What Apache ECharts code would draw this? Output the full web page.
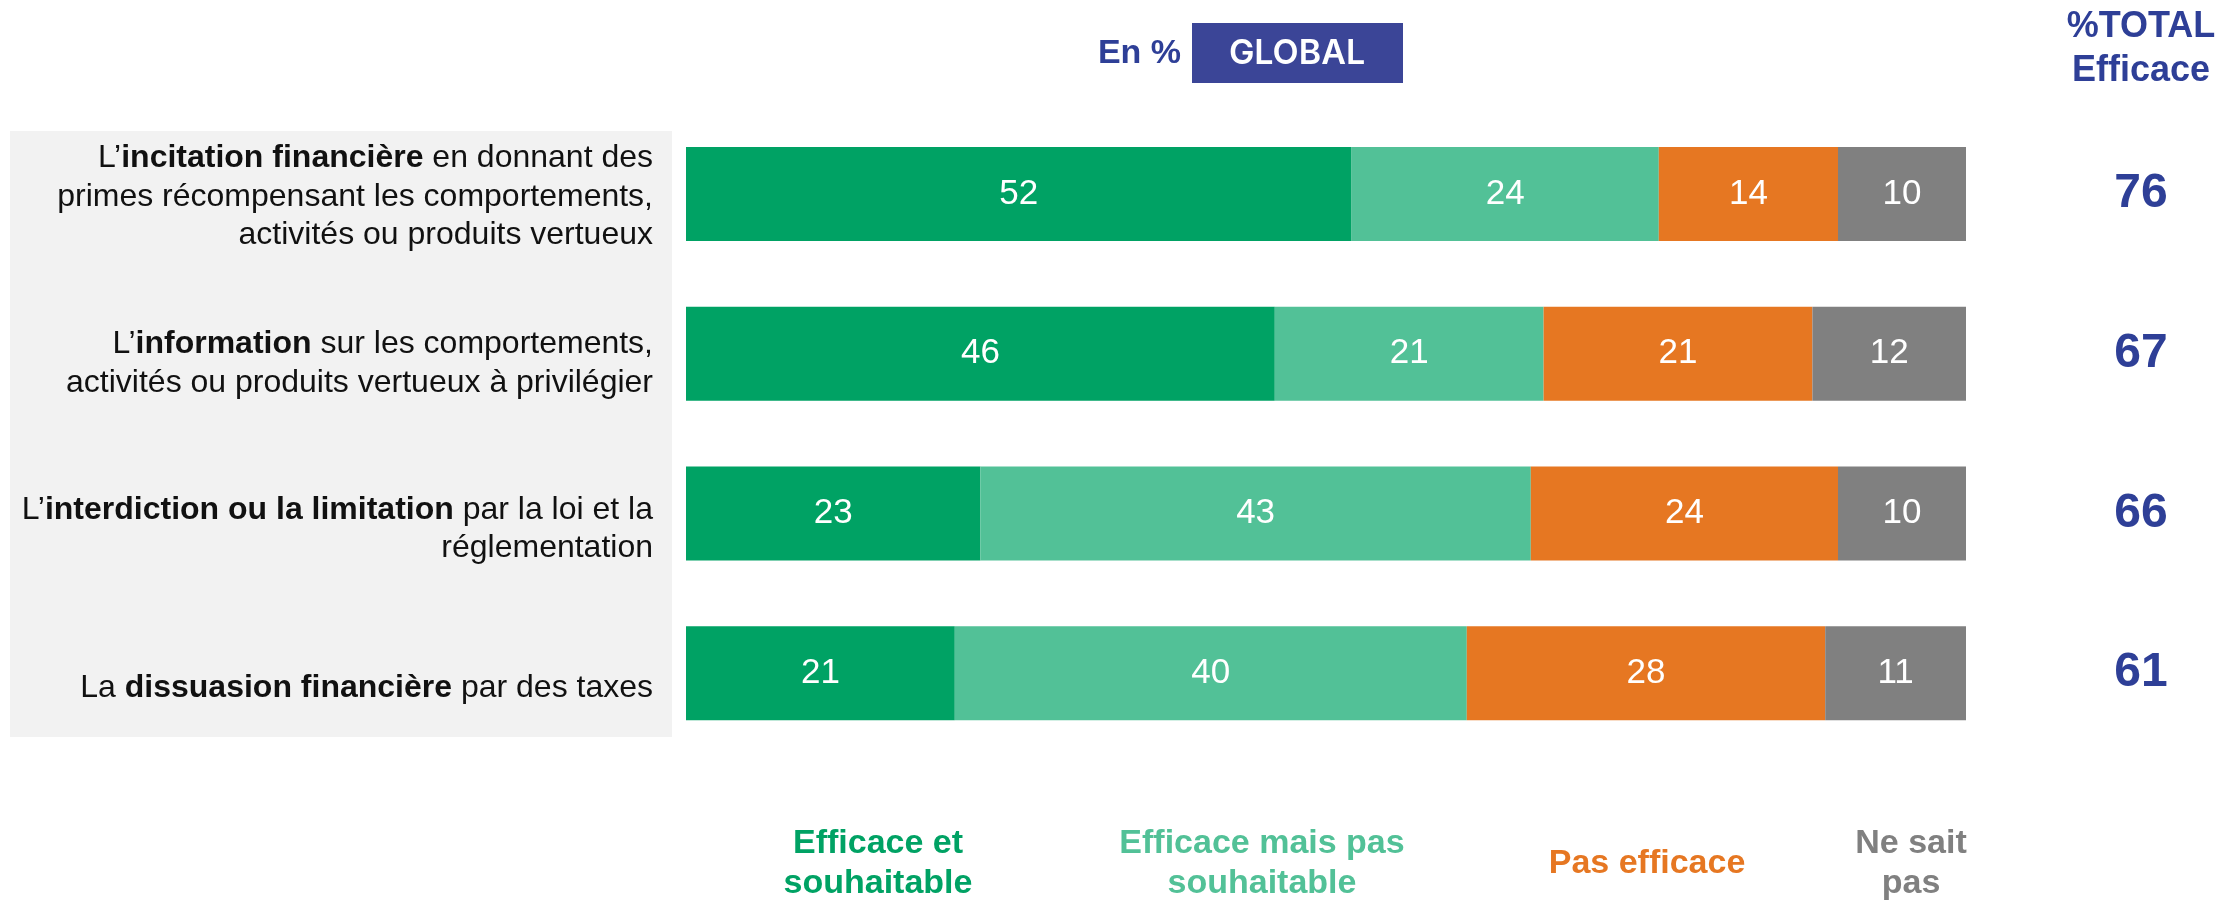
<!DOCTYPE html>
<html>
<head>
<meta charset="utf-8">
<title>Efficacité des leviers</title>
<script src="https://cdn.jsdelivr.net/npm/echarts@6/dist/echarts.min.js"></script>
<style>
	html, body { margin: 0; padding: 0; background: #fff; }
	#main { width: 2236px; height: 900px; }
</style>
</head>
<body>
<div id="main"></div>
<script>
// libellés des leviers (parties en gras entre **)
var categories = [
	'L’**incitation financière** en donnant des\nprimes récompensant les comportements,\nactivités ou produits vertueux',
	'L’**information** sur les comportements,\nactivités ou produits vertueux à privilégier',
	'L’**interdiction ou la limitation** par la loi et la\nréglementation',
	'La **dissuasion financière** par des taxes'
];
var seriesNames = ['Efficace et souhaitable', 'Efficace mais pas souhaitable', 'Pas efficace', 'Ne sait pas'];
var legendLabels = ['Efficace et\nsouhaitable', 'Efficace mais pas\nsouhaitable', 'Pas efficace', 'Ne sait\npas'];
var colors = ['#00A264', '#52C197', '#E67722', '#808080'];

var efficaceSouhaitable = [52, 46, 23, 21];
var efficacePasSouhaitable = [24, 21, 43, 40];
var pasEfficace = [14, 21, 24, 28];
var neSaitPas = [10, 12, 10, 11];
var totalEfficace = [76, 67, 66, 61];

// décalage vertical des libellés (mise en page seulement)
var labelShift = [3, 10, 16, 15];

var font = '"Liberation Sans", Arial, sans-serif';
var navy = '#2E3F97';

// transforme **gras** en texte riche ECharts
function toRich(label) {
	return label.split('\n').map(function(line) {
		var parts = line.split('**');
		var out = '';
		parts.forEach(function(p, i) {
			if (p === '') return;
			out += '{' + (i % 2 ? 'b' : 'n') + '|' + p + '}';
		});
		return out;
	}).join('\n');
}

var chart = echarts.init(document.getElementById('main'));

var values = [efficaceSouhaitable, efficacePasSouhaitable, pasEfficace, neSaitPas];
var series = values.map(function(arr, i) {
	return {
		name: seriesNames[i],
		type: 'bar',
		stack: 'total',
		barWidth: 94,
		data: arr,
		itemStyle: { color: colors[i] },
		label: {
			show: true,
			position: 'inside',
			color: '#fff',
			fontSize: 35,
			fontFamily: font,
			padding: [4, 0, 0, 0]
		},
		emphasis: { disabled: true }
	};
});

var legendX = [878, 1262, 1647, 1911];
var graphics = [
	{
		type: 'rect',
		z: -100,
		shape: { x: 10, y: 131, width: 662, height: 606 },
		style: { fill: '#F2F2F2' }
	},
	{
		type: 'text',
		x: 1181, y: 54,
		style: { text: 'En %', fill: navy, font: 'bold 34px ' + font, textAlign: 'right', textVerticalAlign: 'middle' }
	},
	{
		type: 'rect',
		shape: { x: 1192, y: 23, width: 211, height: 60 },
		style: { fill: '#3B4597' }
	},
	{
		type: 'text',
		x: 1297, y: 54,
		style: { text: 'GLOBAL', fill: '#fff', font: '600 34px Inter, sans-serif', textAlign: 'center', textVerticalAlign: 'middle' }
	},
	{
		type: 'text',
		x: 2141, y: 49,
		style: { text: '%TOTAL\nEfficace', fill: navy, font: 'bold 36px ' + font, lineHeight: 44, textAlign: 'center', textVerticalAlign: 'middle' }
	}
];
legendLabels.forEach(function(t, i) {
	graphics.push({
		type: 'text',
		x: legendX[i], y: 864,
		style: { text: t, fill: colors[i], font: 'bold 34px ' + font, lineHeight: 40, textAlign: 'center', textVerticalAlign: 'middle' }
	});
});

var option = {
	animation: false,
	grid: { left: 686, right: 270, top: 114, height: 639 },
	xAxis: { type: 'value', min: 0, max: 100, show: false },
	yAxis: [
		{
			type: 'category',
			inverse: true,
			data: categories.map(function(c, i) {
				return { value: c, textStyle: { padding: [labelShift[i] * 2, 0, 0, 0] } };
			}),
			axisLine: { show: false },
			axisTick: { show: false },
			axisLabel: {
				margin: 33,
				align: 'right',
				formatter: function(v) { return toRich(v); },
				rich: {
					n: { fontSize: 32, fontFamily: font, color: '#111', lineHeight: 38.5, align: 'right' },
					b: { fontSize: 32, fontFamily: font, color: '#111', fontWeight: 'bold', lineHeight: 38.5, align: 'right' }
				}
			}
		},
		{
			type: 'category',
			inverse: true,
			position: 'right',
			data: totalEfficace,
			axisLine: { show: false },
			axisTick: { show: false },
			axisLabel: {
				margin: 175,
				align: 'center',
				color: navy,
				fontSize: 48,
				fontWeight: 'bold',
				fontFamily: font,
				padding: [6, 0, 0, 0]
			}
		}
	],
	graphic: graphics,
	series: series
};
chart.setOption(option);
window.onresize = function() {
	chart.resize();
};
</script>
</body>
</html>
